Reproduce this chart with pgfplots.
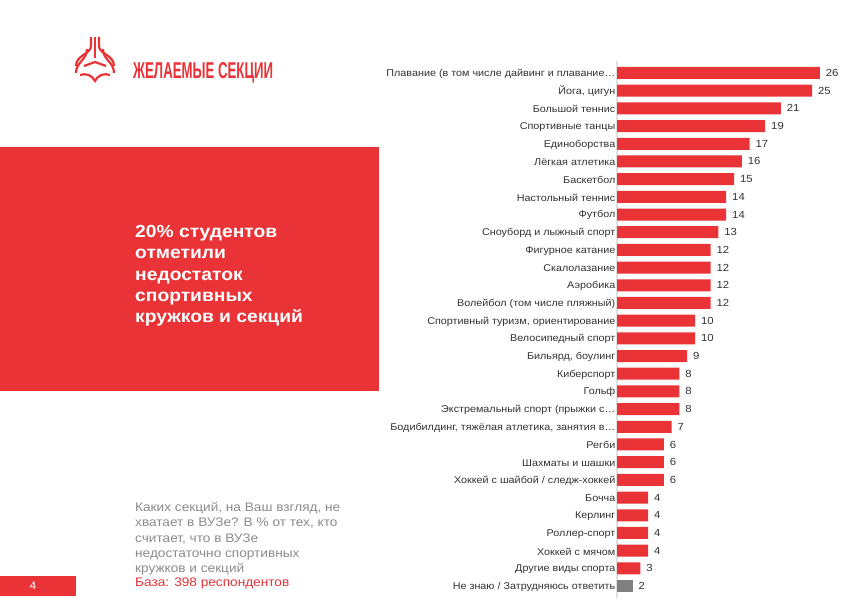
\documentclass[border=0pt]{standalone}
\usepackage{pgfplots}
\pgfplotsset{compat=1.18}
\usepackage{pgfplotstable}
\usepackage{graphicx}
\usepackage{fontspec}
\setmainfont{Liberation Sans}[FakeStretch=1.1]
\newfontfamily\titlefont{Liberation Sans}
\definecolor{myred}{RGB}{233,51,55}
\definecolor{mygray}{RGB}{128,128,128}
\definecolor{txt}{RGB}{51,51,51}
\definecolor{qgray}{RGB}{140,140,140}
\definecolor{axisgray}{RGB}{225,225,225}
\pgfplotstableread{
idx val
0 26
1 25
2 21
3 19
4 17
5 16
6 15
7 14
8 14
9 13
10 12
11 12
12 12
13 12
14 10
15 10
16 9
17 8
18 8
19 8
20 7
21 6
22 6
23 6
24 4
25 4
26 4
27 4
28 3
}\reddata
\pgfplotstableread{
idx val
29 2
}\graydata
\begin{document}
\begin{tikzpicture}
\useasboundingbox (0,0) rectangle (848pt,600pt);
\fill[white] (0,0) rectangle (848pt,600pt);
\begin{scope}[shift={(0,600pt)}, x=1pt, y=-1pt]
% red block
\fill[myred] (0,147) rectangle (379,391);
\node[anchor=north west, align=left, text=white, font=\bfseries\fontsize{17.5}{21.3}\selectfont, inner sep=0pt] at (135,225)
  {20\% студентов\\отметили\\недостаток\\спортивных\\кружков и секций};
% page number
\fill[myred] (0,576) rectangle (76,596);
\node[text=white, font=\fontsize{11}{13}\selectfont] at (33,586) {4};
% question text
\node[anchor=north west, align=left, text=qgray, font=\fontsize{12.4}{15.3}\selectfont, inner sep=0pt] at (135,502)
  {Каких секций, на Ваш взгляд, не\\хватает в ВУЗе? В \% от тех, кто\\считает, что в ВУЗе\\недостаточно спортивных\\кружков и секций\\[-1.5pt]\textcolor{myred}{База: 398 респондентов}};
% logo
\begin{scope}[myred, line width=2.2pt, line cap=butt]
\draw (91,37) -- (91,46) .. controls (91,54) and (76,55) .. (76,66);
\draw (95,37) -- (95,58);
\draw (99,37) -- (99,46) .. controls (99,54) and (114,55) .. (114,66);
\draw (87,49) .. controls (87,60) and (76,62) .. (76,73) ;
\draw (103,49) .. controls (103,60) and (114,62) .. (114,73);
\draw (84,66) -- (95,62) -- (106,66);
\draw (80,75) .. controls (86,73) and (92,75) .. (95,81) .. controls (98,75) and (104,73) .. (110,75);
\end{scope}
\node[anchor=west, inner sep=0pt, text=myred] at (133,72.5)
  {\resizebox{140pt}{16pt}{\titlefont\bfseries ЖЕЛАЕМЫЕ СЕКЦИИ}};
\end{scope}
\begin{axis}[
  at={(617pt,5.15pt)}, anchor=south west,
  scale only axis, width=234pt, height=530.7pt,
  xbar, bar width=12pt, bar shift=0pt,
  xmin=0, xmax=30, ymin=-0.5, ymax=29.5,
  y dir=reverse,
  axis x line=none,
  axis y line*=left,
  y axis line style={draw=axisgray, line width=1.2pt, shorten <=-3pt, shorten >=-3pt},
  ytick={0,...,29},
  major tick length=0pt,
  /pgf/number format/assume math mode=true,
  yticklabels={{Плавание (в том числе дайвинг и плавание…},{Йога, цигун},{Большой теннис},{Спортивные танцы},{Единоборства},{Лёгкая атлетика},{Баскетбол},{Настольный теннис},{Футбол},{Сноуборд и лыжный спорт},{Фигурное катание},{Скалолазание},{Аэробика},{Волейбол (том числе пляжный)},{Спортивный туризм, ориентирование},{Велосипедный спорт},{Бильярд, боулинг},{Киберспорт},{Гольф},{Экстремальный спорт (прыжки с…},{Бодибилдинг, тяжёлая атлетика, занятия в…},{Регби},{Шахматы и шашки},{Хоккей с шайбой / следж-хоккей},{Бочча},{Керлинг},{Роллер-спорт},{Хоккей с мячом},{Другие виды спорта},{Не знаю / Затрудняюсь ответить}},
  yticklabel style={font=\fontsize{9.8}{11}\selectfont, text=txt, inner sep=1.5pt, yshift=-0.8pt},
  nodes near coords,
  every node near coord/.append style={font=\fontsize{10.3}{12}\selectfont, text=txt, xshift=2.5pt},
  clip=false,
]
\addplot[fill=myred, draw=none] table[x=val, y=idx] {\reddata};
\addplot[fill=mygray, draw=none] table[x=val, y=idx] {\graydata};
\end{axis}
\end{tikzpicture}
\end{document}
